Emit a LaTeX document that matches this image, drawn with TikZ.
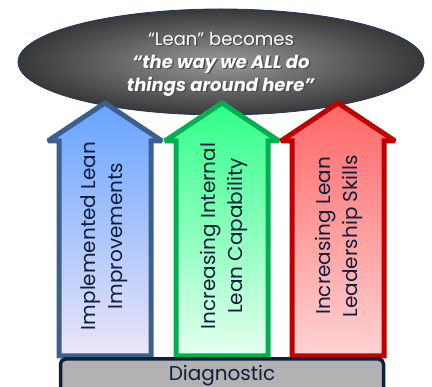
\documentclass[tikz,border=0pt]{standalone}
\usepackage{fontspec}
\setmainfont{Poppins}
\usetikzlibrary{shapes,arrows}
\definecolor{navy}{HTML}{0F1E3C}
\definecolor{rim}{HTML}{1F3864}
\definecolor{blueline}{HTML}{3C5F8E}
\definecolor{bluetop}{HTML}{66A3FF}
\definecolor{bluebottom}{HTML}{EDE6F7}
\definecolor{greenline}{HTML}{00B050}
\definecolor{greentop}{HTML}{2EFF88}
\definecolor{greenbottom}{HTML}{E6FFF0}
\definecolor{redline}{HTML}{C00000}
\definecolor{redtop}{HTML}{FF6666}
\definecolor{redbottom}{HTML}{FFD3D3}
\tikzstyle{pillar} = [line width=5pt, line join=miter, miter limit=3]
\tikzstyle{label} = [text=navy, rotate=90, align=center, font=\fontsize{20}{27}\selectfont]
\tikzstyle{motto} = [align=center, font=\fontsize{18}{23}\selectfont]

\begin{document}
\begin{tikzpicture}[x=1pt,y=1pt]
\useasboundingbox (0,0) rectangle (432,387);

% ellipse on top
\draw[rim, line width=0.8pt, shading=radial, inner color=gray!80, outer color=black!78] (221,325) ellipse (203 and 53);

% the three arrows
\foreach \x/\c in {105/blue, 222/green, 338/red}
  \draw[pillar, draw=\c line, top color=\c top, bottom color=\c bottom]
    (\x-46,31) -- (\x-46,246) -- (\x-57,246) -- (\x,284) -- (\x+57,246) -- (\x+46,246) -- (\x+46,31) -- cycle;

\node[label] (impl) at (104,151) {Implemented Lean\\Improvements};
\node[label] (capab) at (224,151) {Increasing Internal\\Lean Capability};
\node[label] (skills) at (339,151) {Increasing Lean\\Leadership Skills};

% base bar
\node[draw=navy, line width=3.5pt, rounded corners=5pt, fill=gray!60, minimum width=323pt, minimum height=34pt,
  text=navy, font=\fontsize{20}{25}\selectfont] (diag) at (222,11) {Diagnostic};

% motto with its shadow
\node[motto, text=black!70] (mottoshadow) at (222.5,321.5) {“Lean” becomes\\\textbf{\textit{“the way we ALL do}}\\\textbf{\textit{things around here”}}};
\node[motto, text=white] (motto) at (221,323) {“Lean” becomes\\\textbf{\textit{“the way we ALL do}}\\\textbf{\textit{things around here”}}};
\end{tikzpicture}
\end{document}
